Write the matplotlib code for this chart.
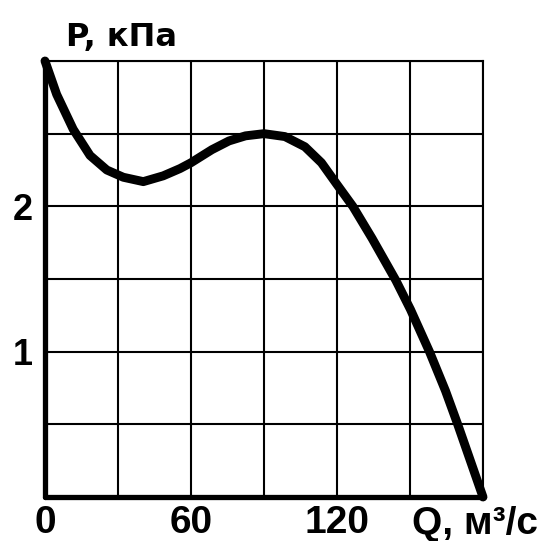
import matplotlib
matplotlib.use("Agg")
import matplotlib.pyplot as plt

plt.rcParams['font.family'] = ['Liberation Sans', 'DejaVu Sans']
plt.rcParams['font.weight'] = 'bold'

# Data
Q = [0, 4.8, 11.6, 18.5, 25.4, 32.2, 40.4, 48.6, 55.5, 60, 68.6, 75.6, 82.4,
     90, 98.6, 106.8, 113.6, 120, 126.5, 134.4, 144.2, 150.2, 158.0, 164.6,
     169.6, 174.8, 180]
P = [3.0, 2.77, 2.53, 2.35, 2.25, 2.20, 2.17, 2.21, 2.26, 2.30, 2.39, 2.45,
     2.485, 2.50, 2.48, 2.41, 2.30, 2.15, 2.0, 1.78, 1.49, 1.29, 1.0, 0.73,
     0.5, 0.25, 0.0]

x_grid = [0, 30, 60, 90, 120, 150, 180]
x_labels = ['0', '', '60', '', '120', '', '']
y_grid = [0, 0.5, 1, 1.5, 2, 2.5, 3]
y_labels = ['', '', '1', '', '2', '', '']

fig = plt.figure(figsize=(5.40, 5.41), dpi=100)
ax = fig.add_axes([45/540, 1 - 497/541, (483 - 45)/540, (497 - 61)/541])

ax.set_xlim(0, 180)
ax.set_ylim(0, 3)
ax.set_xticks(x_grid)
ax.set_xticklabels(x_labels, fontsize=28, fontweight='bold')
ax.set_yticks(y_grid)
ax.set_yticklabels(y_labels, fontsize=26, fontweight='bold')
ax.tick_params(length=0)
ax.tick_params(axis='x', pad=6)
ax.tick_params(axis='y', pad=9)
ax.grid(True, color='black', linewidth=1.5)
ax.set_axisbelow(True)

for s in ['top', 'right']:
    ax.spines[s].set_linewidth(1.5)
for s in ['left', 'bottom']:
    ax.spines[s].set_linewidth(3.8)
    ax.spines[s].set_capstyle('round')

ax.plot(Q, P, color='black', linewidth=6.4, solid_capstyle='round',
        solid_joinstyle='round', clip_on=False, zorder=5)

fig.text(66/540, 1 - 46/541, 'P, кПа', fontsize=23, fontweight='bold',
         family=['DejaVu Sans'], ha='left', va='baseline')
fig.text(538/540, 1 - 534/541, 'Q, м³/с', fontsize=28, fontweight='bold',
         ha='right', va='baseline')

fig.savefig('out.png', dpi=100)
